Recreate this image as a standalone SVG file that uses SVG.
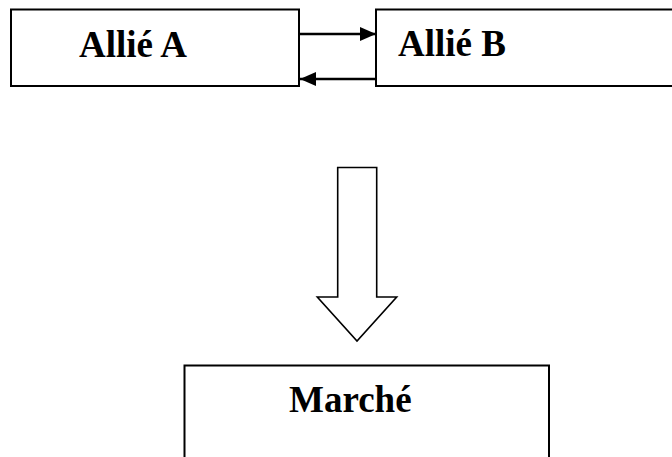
<svg xmlns="http://www.w3.org/2000/svg" width="672" height="457" viewBox="0 0 672 457">
  <style>
    .box { fill: #ffffff; stroke: #000000; stroke-width: 2; }
    .label { font-family: "Liberation Serif", "Times New Roman", serif; font-weight: bold; font-size: 37px; fill: #000000; }
    .link { stroke: #000000; stroke-width: 2.5; fill: none; }
    .flow { fill: #ffffff; stroke: #000000; stroke-width: 1.6; stroke-linejoin: miter; }
  </style>
  <defs>
    <marker id="head" viewBox="0 0 16 14" refX="16" refY="7" markerWidth="16" markerHeight="14" markerUnits="userSpaceOnUse" orient="auto">
      <path d="M0,0 L16,7 L0,14 Z" fill="#000000"/>
    </marker>
  </defs>
  <rect width="672" height="457" fill="#ffffff"/>

  <g id="allie-a">
    <rect class="box" x="11" y="9.5" width="288" height="76.5"/>
    <text class="label" x="79" y="56.5">Allié A</text>
  </g>

  <g id="allie-b">
    <rect class="box" x="376" y="9.5" width="310" height="76.5"/>
    <text class="label" x="398" y="56">Allié B</text>
  </g>

  <g id="marche">
    <rect class="box" x="184.5" y="365.5" width="364.5" height="110"/>
    <text class="label" x="289" y="411.5">Marché</text>
  </g>

  <g id="connectors">
    <line class="link" x1="299" y1="34" x2="376" y2="34" marker-end="url(#head)"/>
    <line class="link" x1="376" y1="79" x2="300" y2="79" marker-end="url(#head)"/>
    <path class="flow" d="M337.7,167.5 L376.7,167.5 L376.7,297 L396.7,297 L357,341 L317.3,297 L337.7,297 Z"/>
  </g>
</svg>
